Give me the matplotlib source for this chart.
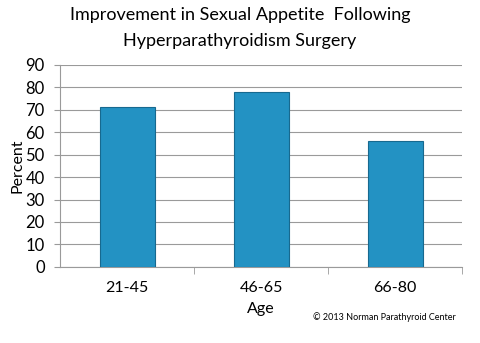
import matplotlib.pyplot as plt
import numpy as np

# Data
ages = ["21-45", "46-65", "66-80"]
percent = [71, 78, 56]
y_ticks = [0, 10, 20, 30, 40, 50, 60, 70, 80, 90]

plt.rcParams['font.family'] = ['Lato', 'DejaVu Sans']

fig = plt.figure(figsize=(4.8, 3.43), dpi=100)
ax = fig.add_axes([0.125, 0.222, 0.838, 0.589])

x = np.arange(len(ages))
ax.bar(x, percent, width=0.41, color='#2392c3', edgecolor='#17698f', linewidth=0.8, zorder=3)

ax.set_xlim(-0.5, 2.5)
ax.set_ylim(0, 90)
ax.set_yticks(y_ticks)
ax.yaxis.grid(True, color='#9a9a9a', linewidth=0.8, zorder=0)
ax.tick_params(axis='y', length=4, color='#9a9a9a', labelsize=12, pad=7)

ax.set_xticks(x)
ax.set_xticklabels(ages, fontsize=11.5)
ax.tick_params(axis='x', length=0, pad=10)
# separator ticks between categories
ax.set_xticks([0.5, 1.5, 2.5], minor=True)
ax.tick_params(axis='x', which='minor', length=5, color='#9a9a9a')

for side in ['top', 'right']:
    ax.spines[side].set_visible(False)
ax.spines['left'].set_color('#9a9a9a')
ax.spines['bottom'].set_color('#9a9a9a')

ax.set_ylabel("Percent", fontsize=11.5, labelpad=1)
ax.set_xlabel("Age", fontsize=11.5, labelpad=5)

fig.text(0.5, 0.955, "Improvement in Sexual Appetite  Following", ha='center', va='center', fontsize=13)
fig.text(0.5, 0.88, "Hyperparathyroidism Surgery", ha='center', va='center', fontsize=13)
fig.text(0.8, 0.075, "\u00a9 2013 Norman Parathyroid Center", ha='center', va='center', fontsize=6.5)

fig.savefig("out.png", dpi=100)
